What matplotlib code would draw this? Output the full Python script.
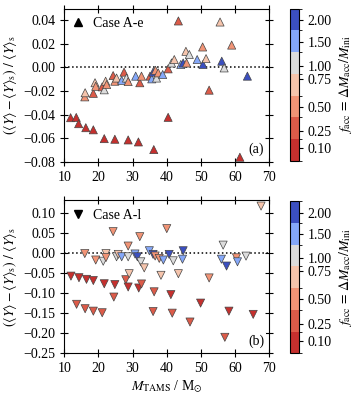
import matplotlib
matplotlib.use('Agg')
import matplotlib.pyplot as plt
from matplotlib.colors import ListedColormap, BoundaryNorm
from matplotlib.lines import Line2D

plt.rcParams['font.family'] = ['Liberation Serif', 'DejaVu Serif']
plt.rcParams['mathtext.fontset'] = 'stix'
plt.rcParams['font.size'] = 10

# case A-e
a_x = [11.85, 13.5, 14.2, 16.3, 18.5, 21.7, 24.8, 28.7, 31.7, 36.2, 40.4, 61.4,
       43.4, 52.4, 50.5, 59.0, 55.6,
       16.0, 16.1, 18.5, 19.0, 19.2, 21.1, 21.7, 22.1, 22.4, 24.3, 24.8, 25.3,
       26.8, 27.5, 28.2, 28.7, 30.9, 32.1, 32.6, 35.1, 35.6, 36.0, 36.7, 37.0,
       37.5, 38.8, 40.4, 41.4, 42.2, 44.1, 44.8, 45.6, 45.8, 46.6, 48.9, 50.6,
       51.5, 56.1, 56.8, 63.6]
a_y = [-0.0427, -0.0425, -0.0478, -0.0512, -0.053, -0.0605, -0.061, -0.0616,
       -0.0633, -0.0698, -0.0424, -0.0763,
       0.0395, -0.0193, 0.0174, 0.019, 0.0386,
       -0.025, -0.0215, -0.022, -0.013, -0.016, -0.0165, -0.019, -0.0117,
       -0.0145, -0.0069, -0.0117, -0.009, -0.011, -0.004, -0.009, -0.012,
       -0.0074, -0.013, -0.0074, -0.0074, -0.0097, -0.004, -0.0024, -0.009,
       -0.0046, -0.006, -0.0012, 0.0038, 0.0067, 0.0025, 0.0038, 0.0137,
       0.0038, 0.011, 0.0067, 0.0025, 0.0075, 0.0053, -0.0004, -0.0074]
a_f = [0.1] * 12 + [0.25, 0.25, 0.5, 0.5, 0.75,
       0.5, 0.75, 0.25, 0.75, 0.5, 0.25, 1.0, 0.75, 0.5, 0.25, 0.5, 0.75,
       1.5, 0.25, 1.0, 0.5, 1.5, 0.25, 0.5, 0.25, 1.5, 2.0, 0.5, 1.0,
       0.5, 1.5, 0.25, 1.0, 0.75, 1.5, 2.0, 0.75, 0.5, 1.0, 1.5, 2.0,
       0.75, 2.0, 1.0, 2.0]

# case A-l
b_x = [11.95, 14.3, 16.5, 18.5, 21.7, 24.8, 28.0, 28.7, 31.8, 32.6, 36.3, 41.2,
       13.6, 16.1, 18.5, 21.1, 24.5, 36.0, 41.6, 46.8, 49.9, 57.0, 58.2, 65.3,
       24.3, 28.7, 32.1, 40.0, 56.5, 67.6,
       16.0, 19.2, 21.4, 22.2, 22.2, 25.3, 25.8, 26.8, 28.7, 29.0, 30.7, 31.4,
       32.4, 33.4, 34.9, 36.0, 36.6, 37.8, 38.3, 39.0, 40.7, 41.9, 43.4, 44.6,
       44.8, 52.4, 56.0, 57.5, 60.4, 60.7, 63.2]
b_y = [-0.058, -0.062, -0.066, -0.069, -0.077, -0.079, -0.067, -0.085, -0.0875,
       -0.0775, -0.097, -0.104,
       -0.128, -0.139, -0.145, -0.149, -0.11, -0.146, -0.15, -0.172, -0.125,
       -0.21, -0.145, -0.153,
       0.0525, 0.0167, 0.04, 0.06, 0.019, 0.116,
       -0.002, -0.018, -0.021, -0.002, -0.012, -0.01, -0.004, -0.01, -0.01,
       -0.052, -0.003, -0.01, -0.0225, -0.0375, 0.005, -0.004, -0.008, -0.014,
       -0.056, -0.018, -0.004, -0.02, -0.052, -0.016, 0.005, -0.0625, -0.016,
       -0.033, -0.0125, -0.0225, -0.0083]
b_f = [0.1, 0.1, 0.1, 0.1, 0.1, 0.1, 0.25, 0.1, 0.1, 0.25, 0.25, 0.1,
       0.25, 0.25, 0.25, 0.25, 0.25, 0.25, 0.25, 0.25, 0.1, 0.25, 0.1, 0.1,
       0.5, 0.5, 0.5, 0.5, 1.0, 0.75,
       0.5, 0.5, 1.0, 0.75, 0.5, 1.0, 0.75, 1.5, 1.0, 0.75, 1.5, 2.0,
       1.0, 0.75, 1.5, 2.0, 0.5, 0.5, 0.75, 1.5, 2.0, 1.0, 0.75, 1.5,
       2.0, 0.5, 1.5, 2.0, 0.5, 1.5, 1.0]

x_ticks = [10, 20, 30, 40, 50, 60, 70]
cb_ticks = [0.10, 0.25, 0.50, 0.75, 1.00, 1.50, 2.00]
bounds = [0.034, 0.148, 0.423, 0.58, 0.8, 1.34, 1.68, 2.36]
cmap = ListedColormap(['#c5302e', '#dc5b49', '#f19476', '#f5c4ac',
                       '#dcdcdc', '#85a8f9', '#3b4fc0'])
norm = BoundaryNorm(bounds, cmap.N)

fig = plt.figure(figsize=(3.54, 3.98), dpi=100)
ax1 = fig.add_axes([0.1816, 0.594, 0.579, 0.3844])
ax2 = fig.add_axes([0.1816, 0.112, 0.579, 0.3844])
cax1 = fig.add_axes([0.819, 0.596, 0.025, 0.3824])
cax2 = fig.add_axes([0.819, 0.112, 0.025, 0.3824])

ylab = r'$(\langle Y\rangle - \langle Y\rangle_{\rm s})\ /\ \langle Y\rangle_{\rm s}$'

panels = [(ax1, cax1, a_x, a_y, a_f, '^', 'Case A-e', '(a)', (-0.08, 0.05)),
          (ax2, cax2, b_x, b_y, b_f, 'v', 'Case A-l', '(b)', (-0.25, 0.13))]
for ax, cax, x, y, f, mk, lab, tag, ylim in panels:
    sc = ax.scatter(x, y, c=f, cmap=cmap, norm=norm, marker=mk, s=34,
                    edgecolors='#444444', linewidths=0.5, zorder=3)
    ax.axhline(0, color='k', ls=':', lw=1.1, zorder=2)
    ax.set_xlim(10, 70)
    ax.set_xticks(x_ticks)
    ax.set_ylim(*ylim)
    ax.set_ylabel(ylab, labelpad=3)
    ax.tick_params(direction='inout', top=True, right=True, length=6)
    h = Line2D([], [], marker=mk, color='k', ls='none', markersize=5.5)
    ax.legend([h], [lab], loc='upper left', frameon=False, handlelength=0.8,
              handletextpad=0.7, borderaxespad=0.2)
    ax.text(0.975, 0.035, tag, transform=ax.transAxes, ha='right',
            va='bottom',
            bbox=dict(facecolor='white', edgecolor='none', pad=1))
    cb = fig.colorbar(sc, cax=cax, ticks=cb_ticks)
    cb.ax.set_yticklabels(['%.2f' % t for t in cb_ticks])
    cb.set_label(r'$f_{\rm acc}\,=\,\Delta M_{\rm acc}/M_{\rm ini}$')
    cb.ax.tick_params(length=3)

ax1.set_yticks([-0.08, -0.06, -0.04, -0.02, 0.0, 0.02, 0.04])
ax2.set_yticks([-0.25, -0.20, -0.15, -0.10, -0.05, 0.0, 0.05, 0.10])
ax2.set_xlabel(r'$M_{\rm TAMS}$ / M$_{\odot}$', labelpad=2)

fig.savefig('out.png', dpi=100)
